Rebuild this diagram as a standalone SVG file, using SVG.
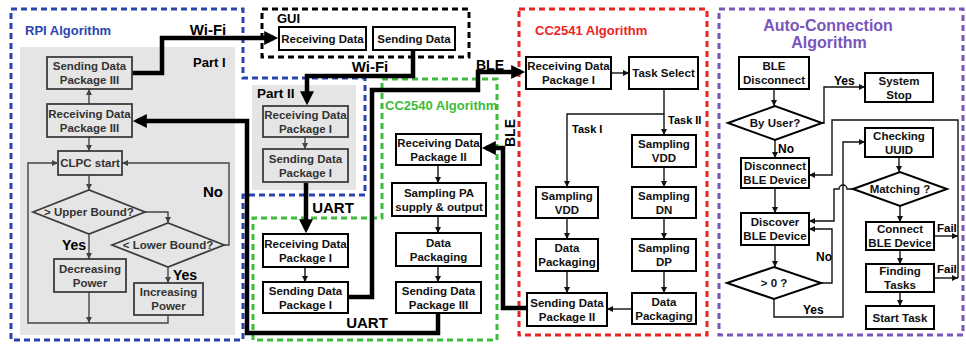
<svg xmlns="http://www.w3.org/2000/svg" width="966" height="344" viewBox="0 0 966 344">
<style>
.box{fill:#fff;stroke:#000;stroke-width:2}
.gbox{fill:none;stroke:#3c3c3c;stroke-width:1.8}
.t{font-family:"Liberation Sans",Arial,sans-serif;font-weight:bold;font-size:11.5px;text-anchor:middle;fill:#111}
.gt{fill:#333}
.l{font-family:"Liberation Sans",Arial,sans-serif;font-weight:bold;fill:#000}
.thin{fill:none;stroke:#111;stroke-width:1.4;marker-end:url(#a)}
.gthin{fill:none;stroke:#444;stroke-width:1.4;marker-end:url(#ag)}
.plain{fill:none;stroke:#111;stroke-width:1.4}
.thick{fill:none;stroke:#000;stroke-width:4.5;marker-end:url(#A)}
.dash{fill:none;stroke-width:3;stroke-dasharray:6 4}
</style>
<defs>
<marker id="a" viewBox="0 0 10 10" refX="10" refY="5" markerWidth="7" markerHeight="6" orient="auto" markerUnits="userSpaceOnUse"><path d="M0,0L10,5L0,10z" fill="#111"/></marker>
<marker id="ag" viewBox="0 0 10 10" refX="10" refY="5" markerWidth="7" markerHeight="6" orient="auto" markerUnits="userSpaceOnUse"><path d="M0,0L10,5L0,10z" fill="#444"/></marker>
<marker id="A" viewBox="0 0 10 10" refX="7" refY="5" markerWidth="16" markerHeight="14" orient="auto" markerUnits="userSpaceOnUse"><path d="M0,0L10,5L0,10z" fill="#000"/></marker>
</defs>
<rect width="966" height="344" fill="#fff"/>

<g id="regions">
<rect x="20" y="47" width="215" height="288" fill="#e5e5e5"/>
<rect x="252" y="85" width="104" height="105" fill="#e5e5e5"/>
<path class="dash" stroke="#2a45b0" d="M11,9H243V78H365V195H243V340H11Z"/>
<rect class="dash" stroke="#000" x="262" y="9" width="207" height="48"/>
<path class="dash" stroke="#3cbb3c" d="M382,79H497V340H253V218H382Z"/>
<rect class="dash" stroke="#ee2222" x="519" y="9" width="188" height="326"/>
<rect class="dash" stroke="#7a55bb" x="719" y="9" width="244" height="326"/>
<text class="l" x="25" y="35" font-size="13" fill="#2a45b0" style="fill:#2a45b0">RPI Algorithm</text>
<text class="l" x="193" y="67" font-size="13">Part I</text>
<text class="l" x="257" y="98" font-size="13.5">Part II</text>
<text class="l" x="277" y="23" font-size="13">GUI</text>
<text class="l" x="385" y="110" font-size="13" style="fill:#3cbb3c">CC2540 Algorithm</text>
<text class="l" x="535" y="35" font-size="13" style="fill:#ee2222">CC2541 Algorithm</text>
<text class="l" x="828" y="31" font-size="16" text-anchor="middle" style="fill:#7a55bb">Auto-Connection</text>
<text class="l" x="829" y="48" font-size="16" text-anchor="middle" style="fill:#7a55bb">Algorithm</text>
</g>

<g id="connectors">
<path class="gthin" d="M89,104V89"/>
<path class="gthin" d="M89,137V151"/>
<path class="gthin" d="M89,175V190"/>
<path class="gthin" d="M145,212H168V223"/>
<path class="gthin" d="M89,234V259"/>
<path class="gthin" d="M168,267V283"/>
<path class="gthin" d="M224,245H229V163H122"/>
<path class="gthin" d="M89,292V323"/>
<path class="gthin" d="M168,315V323H28V163H58"/>
<path class="gthin" d="M305,137V149"/>
<path class="thin" d="M438,165V183"/>
<path class="thin" d="M438,216V233"/>
<path class="thin" d="M438,266V282"/>
<path class="thin" d="M305,267V282"/>
<path class="thin" d="M611,73H629"/>
<path class="thin" d="M664,89V135"/>
<path class="thin" d="M664,114H567V187"/>
<path class="thin" d="M567,218V239"/>
<path class="thin" d="M567,271V293"/>
<path class="thin" d="M664,167V187"/>
<path class="thin" d="M664,218V239"/>
<path class="thin" d="M664,271V293"/>
<path class="thin" d="M632,309H607"/>
<path class="thin" d="M774,89V106"/>
<path class="thin" d="M822,123H824V87H865"/>
<path class="thin" d="M775,140V158"/>
<path class="thin" d="M775,188V213"/>
<path class="thin" d="M775,245V267"/>
<path class="thin" d="M821,283H832V229H809"/>
<path class="thin" d="M774,299V317H843V142H865"/>
<path class="thin" d="M853,189H847A4,4 0 0 0 839,189H834V221H809"/>
<path class="thin" d="M899,157V172"/>
<path class="thin" d="M900,206V222"/>
<path class="thin" d="M900,250V264"/>
<path class="thin" d="M900,292V306"/>
<path class="thin" d="M934,236H958"/>
<path class="thin" d="M934,278H958"/>
<path class="thin" d="M958,278V120H832V175H809"/>
<path class="thick" d="M132,73H162V38H274"/>
<path class="thick" d="M413,50V76H307V101"/>
<path class="thick" d="M306,183V229"/>
<path class="thick" d="M348,297H372V90H478V72H521"/>
<path class="thick" d="M438,313V333H247V121H137"/>
<path class="thick" d="M527,308H503V148H486"/>
<text class="l" x="208" y="35" font-size="15" text-anchor="middle">Wi-Fi</text>
<text class="l" x="370" y="72" font-size="15" text-anchor="middle">Wi-Fi</text>
<text class="l" x="490" y="70" font-size="14" text-anchor="middle">BLE</text>
<text class="l" x="333" y="213" font-size="15" text-anchor="middle">UART</text>
<text class="l" x="367" y="328" font-size="15" text-anchor="middle">UART</text>
<text class="l" font-size="14" text-anchor="middle" transform="translate(515,133) rotate(-90)">BLE</text>
<text class="l" x="62" y="250" font-size="14">Yes</text>
<text class="l" x="173" y="280" font-size="14">Yes</text>
<text class="l" x="203" y="197" font-size="15">No</text>
<text class="l" x="668" y="124" font-size="11">Task II</text>
<text class="l" x="572" y="133" font-size="11">Task I</text>
<text class="l" x="834" y="85" font-size="12">Yes</text>
<text class="l" x="778" y="153" font-size="12">No</text>
<text class="l" x="816" y="261" font-size="12">No</text>
<text class="l" x="803" y="314" font-size="12">Yes</text>
<text class="l" x="937" y="232" font-size="11.5">Fail</text>
<text class="l" x="937" y="273" font-size="11.5">Fail</text>
</g>

<g id="rpi-send3"><rect class="gbox" x="47" y="57" width="85" height="32"/><text class="t gt" x="89.5" y="70">Sending Data</text><text class="t gt" x="89.5" y="84">Package III</text></g>
<g id="rpi-recv3"><rect class="gbox" x="47" y="104" width="85" height="33"/><text class="t gt" x="89.5" y="117.5">Receiving Data</text><text class="t gt" x="89.5" y="131.5">Package III</text></g>
<g id="rpi-clpc"><rect class="gbox" x="58" y="151" width="64" height="24"/><text class="t gt" x="90" y="167">CLPC start</text></g>
<g id="rpi-upper"><path class="gbox" d="M33,212L89,190L145,212L89,234Z"/><text class="t gt" x="89" y="216" font-size="12">&gt; Upper Bound?</text></g>
<g id="rpi-lower"><path class="gbox" d="M112,245L168,223L224,245L168,267Z"/><text class="t gt" x="168" y="249" font-size="12">&lt; Lower Bound?</text></g>
<g id="rpi-dec"><rect class="gbox" x="54" y="259" width="72" height="33"/><text class="t gt" x="90" y="272.5">Decreasing</text><text class="t gt" x="90" y="286.5">Power</text></g>
<g id="rpi-inc"><rect class="gbox" x="134" y="283" width="69" height="32"/><text class="t gt" x="168.5" y="296">Increasing</text><text class="t gt" x="168.5" y="310">Power</text></g>
<g id="p2-recv1"><rect class="gbox" x="263" y="106" width="85" height="31"/><text class="t gt" x="305.5" y="118.5">Receiving Data</text><text class="t gt" x="305.5" y="132.5">Package I</text></g>
<g id="p2-send1"><rect class="gbox" x="263" y="149" width="85" height="33"/><text class="t gt" x="305.5" y="162.5">Sending Data</text><text class="t gt" x="305.5" y="176.5">Package I</text></g>
<g id="gui-recv"><rect class="box" x="279" y="27" width="87" height="23"/><text class="t" x="322.5" y="42.5">Receiving Data</text></g>
<g id="gui-send"><rect class="box" x="373" y="27" width="82" height="23"/><text class="t" x="414" y="42.5">Sending Data</text></g>
<g id="c40-recv1"><rect class="box" x="263" y="234" width="85" height="33"/><text class="t" x="305.5" y="247.5">Receiving Data</text><text class="t" x="305.5" y="261.5">Package I</text></g>
<g id="c40-send1"><rect class="box" x="263" y="282" width="85" height="31"/><text class="t" x="305.5" y="294.5">Sending Data</text><text class="t" x="305.5" y="308.5">Package I</text></g>
<g id="c40-recv2"><rect class="box" x="396" y="134" width="85" height="31"/><text class="t" x="438.5" y="146.5">Receiving Data</text><text class="t" x="438.5" y="160.5">Package II</text></g>
<g id="c40-samp"><rect class="box" x="392" y="183" width="94" height="33"/><text class="t" x="439" y="196.5">Sampling PA</text><text class="t" x="439" y="210.5">supply &amp; output</text></g>
<g id="c40-pack"><rect class="box" x="396" y="233" width="85" height="33"/><text class="t" x="438.5" y="246.5">Data</text><text class="t" x="438.5" y="260.5">Packaging</text></g>
<g id="c40-send3"><rect class="box" x="396" y="282" width="85" height="31"/><text class="t" x="438.5" y="294.5">Sending Data</text><text class="t" x="438.5" y="308.5">Package III</text></g>
<g id="c41-recv1"><rect class="box" x="526" y="57" width="85" height="32"/><text class="t" x="568.5" y="70">Receiving Data</text><text class="t" x="568.5" y="84">Package I</text></g>
<g id="c41-task"><rect class="box" x="629" y="57" width="69" height="32"/><text class="t" x="663.5" y="77">Task Select</text></g>
<g id="c41-vdd2"><rect class="box" x="632" y="135" width="64" height="32"/><text class="t" x="664" y="148">Sampling</text><text class="t" x="664" y="162">VDD</text></g>
<g id="c41-vdd1"><rect class="box" x="536" y="187" width="62" height="31"/><text class="t" x="567" y="199.5">Sampling</text><text class="t" x="567" y="213.5">VDD</text></g>
<g id="c41-dn"><rect class="box" x="632" y="187" width="64" height="31"/><text class="t" x="664" y="199.5">Sampling</text><text class="t" x="664" y="213.5">DN</text></g>
<g id="c41-pack1"><rect class="box" x="536" y="239" width="62" height="32"/><text class="t" x="567" y="252">Data</text><text class="t" x="567" y="266">Packaging</text></g>
<g id="c41-dp"><rect class="box" x="632" y="239" width="64" height="32"/><text class="t" x="664" y="252">Sampling</text><text class="t" x="664" y="266">DP</text></g>
<g id="c41-pack2"><rect class="box" x="632" y="293" width="64" height="31"/><text class="t" x="664" y="305.5">Data</text><text class="t" x="664" y="319.5">Packaging</text></g>
<g id="c41-send2"><rect class="box" x="527" y="293" width="80" height="33"/><text class="t" x="567" y="306.5">Sending Data</text><text class="t" x="567" y="320.5">Package II</text></g>
<g id="ac-bledisc"><rect class="box" x="739" y="57" width="70" height="32"/><text class="t" x="774" y="70">BLE</text><text class="t" x="774" y="84">Disconnect</text></g>
<g id="ac-stop"><rect class="box" x="865" y="73" width="68" height="29"/><text class="t" x="899" y="84.5">System</text><text class="t" x="899" y="98.5">Stop</text></g>
<g id="ac-byuser"><path class="box" d="M728,123L775,106L822,123L775,140Z"/><text class="t" x="775" y="127" font-size="11.5">By User?</text></g>
<g id="ac-disc"><rect class="box" x="741" y="158" width="68" height="30"/><text class="t" x="775" y="170">Disconnect</text><text class="t" x="775" y="184">BLE Device</text></g>
<g id="ac-uuid"><rect class="box" x="865" y="128" width="68" height="29"/><text class="t" x="899" y="139.5">Checking</text><text class="t" x="899" y="153.5">UUID</text></g>
<g id="ac-match"><path class="box" d="M853,189L900,172L947,189L900,206Z"/><text class="t" x="900" y="193">Matching ?</text></g>
<g id="ac-discover"><rect class="box" x="741" y="213" width="68" height="32"/><text class="t" x="775" y="226">Discover</text><text class="t" x="775" y="240">BLE Device</text></g>
<g id="ac-gt0"><path class="box" d="M727,283L774,267L821,283L774,299Z"/><text class="t" x="774" y="287">&gt; 0 ?</text></g>
<g id="ac-connect"><rect class="box" x="866" y="222" width="68" height="28"/><text class="t" x="900" y="233">Connect</text><text class="t" x="900" y="247">BLE Device</text></g>
<g id="ac-finding"><rect class="box" x="866" y="264" width="68" height="28"/><text class="t" x="900" y="275">Finding</text><text class="t" x="900" y="289">Tasks</text></g>
<g id="ac-start"><rect class="box" x="866" y="306" width="68" height="23"/><text class="t" x="900" y="321.5">Start Task</text></g>
</svg>
